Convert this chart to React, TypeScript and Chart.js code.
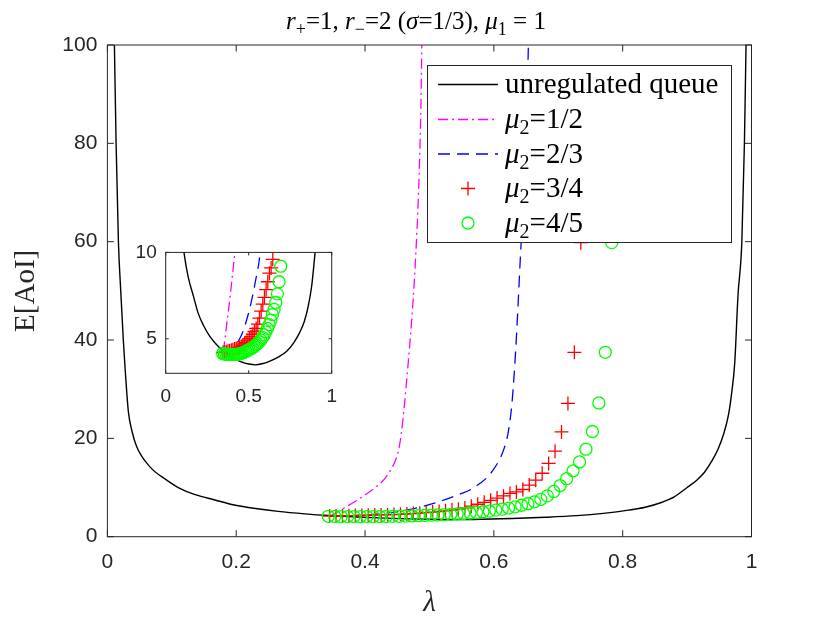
import React, { useEffect, useRef } from "react";
import { Chart, registerables } from "chart.js";

Chart.register(...registerables);

// ---------------- data ----------------
const blackX = [0.0109, 0.0135, 0.0171, 0.0207, 0.0247, 0.0278, 0.0325, 0.0385, 0.0455, 0.0661, 0.092, 0.11, 0.135, 0.167, 0.195, 0.227, 0.265, 0.307, 0.345, 0.388, 0.43, 0.468, 0.5, 0.538, 0.58, 0.628, 0.68, 0.729, 0.77, 0.809, 0.835, 0.859, 0.88, 0.9, 0.915, 0.927, 0.938, 0.948, 0.957, 0.964, 0.969, 0.974, 0.979, 0.985, 0.989, 0.9915];
const blackY = [100, 80, 60, 50, 40, 33.6, 25.5, 21.3, 18.3, 14.2, 11.5, 10, 8.6, 7.47, 6.5, 5.78, 5.15, 4.65, 4.3, 4.0, 3.78, 3.62, 3.54, 3.49, 3.55, 3.71, 3.95, 4.28, 4.75, 5.4, 6.0, 6.9, 8.1, 10, 11.5, 13.1, 15.3, 17.8, 21, 24.6, 29, 35.4, 49, 60, 80, 100];

const magentaX = [0.347, 0.357, 0.367, 0.38, 0.39, 0.4, 0.41, 0.42, 0.43, 0.44, 0.448, 0.4532, 0.459, 0.4647, 0.47, 0.475, 0.479, 0.4828, 0.4852, 0.487, 0.4882];
const magentaY = [4.28, 5.0, 5.78, 6.8, 7.6, 8.5, 9.4, 10.4, 11.7, 13.6, 15.8, 18.3, 24, 31.9, 40, 48.8, 58, 69.1, 79, 89.5, 100];

const blueX = [0.345, 0.38, 0.41, 0.44, 0.465, 0.488, 0.51, 0.53, 0.548, 0.563, 0.579, 0.59, 0.599, 0.608, 0.615, 0.622, 0.628, 0.632, 0.6356, 0.6407, 0.6458, 0.651, 0.6536];
const blueY = [4.2, 4.3, 4.5, 4.9, 5.4, 6.1, 6.9, 7.8, 8.7, 9.5, 10.9, 12.1, 13.6, 15.5, 17.6, 21, 27, 34, 42, 55.6, 69.1, 86, 100];

const redX = [0.345, 0.355, 0.365, 0.375, 0.385, 0.395, 0.405, 0.415, 0.425, 0.435, 0.445, 0.455, 0.465, 0.475, 0.485, 0.495, 0.505, 0.515, 0.525, 0.535, 0.545, 0.555, 0.565, 0.575, 0.585, 0.595, 0.605, 0.615, 0.625, 0.635, 0.645, 0.655, 0.665, 0.675, 0.685, 0.695, 0.705, 0.715, 0.725, 0.735];
const redY = [4.2, 4.22, 4.25, 4.28, 4.3, 4.33, 4.36, 4.4, 4.43, 4.47, 4.5, 4.56, 4.62, 4.7, 4.78, 4.88, 5.0, 5.12, 5.26, 5.42, 5.6, 5.85, 6.2, 6.6, 7.0, 7.4, 7.85, 8.3, 8.8, 9.1, 9.6, 10.5, 11.5, 12.9, 14.9, 17.4, 21.3, 27.1, 37.5, 59.8];

const greenX = [0.343, 0.353, 0.363, 0.373, 0.383, 0.393, 0.403, 0.413, 0.423, 0.433, 0.443, 0.453, 0.463, 0.473, 0.483, 0.493, 0.503, 0.513, 0.523, 0.533, 0.543, 0.553, 0.563, 0.573, 0.583, 0.593, 0.603, 0.613, 0.623, 0.633, 0.643, 0.653, 0.663, 0.673, 0.683, 0.693, 0.703, 0.713, 0.723, 0.733, 0.743, 0.753, 0.763, 0.773, 0.783];
const greenY = [4.15, 4.12, 4.1, 4.09, 4.09, 4.09, 4.09, 4.09, 4.09, 4.11, 4.13, 4.15, 4.18, 4.22, 4.27, 4.32, 4.37, 4.42, 4.48, 4.55, 4.63, 4.72, 4.82, 4.93, 5.07, 5.22, 5.4, 5.6, 5.82, 6.08, 6.4, 6.7, 7.1, 7.6, 8.3, 9.2, 10.4, 11.8, 13.4, 15.2, 17.8, 21.4, 27.2, 37.5, 59.8];

const mainXTicks = [0, 0.2, 0.4, 0.6, 0.8, 1];
const mainYTicks = [0, 20, 40, 60, 80, 100];
const insetXTicks = [0, 0.5, 1];
const insetYTicks = [5, 10];

const seriesLabels = ["unregulated queue", "μ2=1/2", "μ2=2/3", "μ2=3/4", "μ2=4/5"];
const xAxisLabel = "λ";
const yAxisLabel = "E[AoI]";

type Part = { t: string; it?: boolean; sub?: boolean };
const titleParts: Part[] = [
  { t: "r", it: true }, { t: "+", sub: true }, { t: "=1, " },
  { t: "r", it: true }, { t: "−", sub: true }, { t: "=2 (" },
  { t: "σ", it: true }, { t: "=1/3), " },
  { t: "μ", it: true }, { t: "1", sub: true }, { t: " = 1" },
];
const legendParts: Part[][] = [
  [{ t: "unregulated queue" }],
  [{ t: "μ", it: true }, { t: "2", sub: true }, { t: "=1/2" }],
  [{ t: "μ", it: true }, { t: "2", sub: true }, { t: "=2/3" }],
  [{ t: "μ", it: true }, { t: "2", sub: true }, { t: "=3/4" }],
  [{ t: "μ", it: true }, { t: "2", sub: true }, { t: "=4/5" }],
];

// ---------------- styling ----------------
const AXIS = "#262626";
const SANS = "'Liberation Sans', Arial, sans-serif";
const SERIF = "'Liberation Serif', 'Times New Roman', serif";
const BLACK = "#000000";
const MAGENTA = "#ff00ff";
const BLUE = "#0000ff";
const RED = "#ff0000";
const GREEN = "#00ff00";
const DASH_DOT = [10, 4, 2, 4];
const DASHED = [12, 7];

function pts(xs: number[], ys: number[]) {
  return xs.map((x, i) => ({ x, y: ys[i] }));
}

function drawRich(ctx: CanvasRenderingContext2D, parts: Part[], x: number, baseline: number, size: number, center: boolean) {
  const fontFor = (p: Part) => `${p.it ? "italic " : ""}${p.sub ? Math.round(size * 0.7) : size}px ${SERIF}`;
  let total = 0;
  for (const p of parts) {
    ctx.font = fontFor(p);
    total += ctx.measureText(p.t).width;
  }
  let cx = center ? x - total / 2 : x;
  ctx.textAlign = "left";
  ctx.textBaseline = "alphabetic";
  for (const p of parts) {
    ctx.font = fontFor(p);
    ctx.fillText(p.t, cx, baseline + (p.sub ? size * 0.22 : 0));
    cx += ctx.measureText(p.t).width;
  }
}

function makeDatasets() {
  return [
    {
      label: seriesLabels[0], data: pts(blackX, blackY), showLine: true, borderColor: BLACK, borderWidth: 1.4,
      pointRadius: 0, cubicInterpolationMode: "monotone", order: 5,
    },
    {
      label: seriesLabels[1], data: pts(magentaX, magentaY), showLine: true, borderColor: MAGENTA, borderWidth: 1.3,
      borderDash: DASH_DOT, pointRadius: 0, cubicInterpolationMode: "monotone", order: 4,
    },
    {
      label: seriesLabels[2], data: pts(blueX, blueY), showLine: true, borderColor: BLUE, borderWidth: 1.3,
      borderDash: DASHED, pointRadius: 0, cubicInterpolationMode: "monotone", order: 3,
    },
    {
      label: seriesLabels[3], data: pts(redX, redY), showLine: false, pointStyle: "cross", pointRadius: 7,
      borderColor: RED, backgroundColor: RED, pointBorderWidth: 1.3, order: 2,
    },
    {
      label: seriesLabels[4], data: pts(greenX, greenY), showLine: false, pointStyle: "circle", pointRadius: 6,
      borderColor: GREEN, backgroundColor: "rgba(0,0,0,0)", pointBorderWidth: 1.3, order: 1,
    },
  ];
}

function framePlugin(xTicks: number[], yTicks: number[], tickLen: number, fillWhite: boolean) {
  return {
    id: "matlabFrame",
    beforeDatasetsDraw(chart: any) {
      if (!fillWhite) return;
      const { ctx, chartArea: a } = chart;
      ctx.save();
      ctx.fillStyle = "#ffffff";
      ctx.fillRect(a.left, a.top, a.right - a.left, a.bottom - a.top);
      ctx.restore();
    },
    afterDatasetsDraw(chart: any) {
      const { ctx, chartArea: a, scales } = chart;
      ctx.save();
      ctx.strokeStyle = AXIS;
      ctx.lineWidth = 1;
      ctx.setLineDash([]);
      ctx.beginPath();
      for (const v of xTicks) {
        const px = scales.x.getPixelForValue(v);
        ctx.moveTo(px, a.bottom);
        ctx.lineTo(px, a.bottom - tickLen);
        ctx.moveTo(px, a.top);
        ctx.lineTo(px, a.top + tickLen);
      }
      for (const v of yTicks) {
        const py = scales.y.getPixelForValue(v);
        ctx.moveTo(a.left, py);
        ctx.lineTo(a.left + tickLen, py);
        ctx.moveTo(a.right, py);
        ctx.lineTo(a.right - tickLen, py);
      }
      ctx.stroke();
      ctx.strokeRect(a.left, a.top, a.right - a.left, a.bottom - a.top);
      ctx.restore();
    },
  };
}

const legendTitlePlugin = {
  id: "legendTitle",
  afterDraw(chart: any) {
    const { ctx } = chart;
    ctx.save();
    // title
    ctx.fillStyle = "#000000";
    drawRich(ctx, titleParts, 416, 29, 25, true);

    // legend box
    const bx = 427.5, by = 65.5, bw = 304, bh = 177;
    ctx.fillStyle = "#ffffff";
    ctx.fillRect(bx, by, bw, bh);
    ctx.strokeStyle = AXIS;
    ctx.lineWidth = 1;
    ctx.strokeRect(bx, by, bw, bh);

    const rowY = [84.5, 119.5, 154, 188.5, 223];
    const x0 = 438, x1 = 498, xm = 468;
    // row 0 - solid black
    ctx.lineWidth = 1.4;
    ctx.strokeStyle = BLACK;
    ctx.setLineDash([]);
    ctx.beginPath(); ctx.moveTo(x0, rowY[0]); ctx.lineTo(x1, rowY[0]); ctx.stroke();
    // row 1 - dash-dot magenta
    ctx.lineWidth = 1.3;
    ctx.strokeStyle = MAGENTA;
    ctx.setLineDash(DASH_DOT);
    ctx.beginPath(); ctx.moveTo(x0, rowY[1]); ctx.lineTo(x1, rowY[1]); ctx.stroke();
    // row 2 - dashed blue
    ctx.strokeStyle = BLUE;
    ctx.setLineDash(DASHED);
    ctx.beginPath(); ctx.moveTo(x0, rowY[2]); ctx.lineTo(x1, rowY[2]); ctx.stroke();
    ctx.setLineDash([]);
    // row 3 - red plus
    ctx.strokeStyle = RED;
    ctx.beginPath();
    ctx.moveTo(xm - 7, rowY[3]); ctx.lineTo(xm + 7, rowY[3]);
    ctx.moveTo(xm, rowY[3] - 7); ctx.lineTo(xm, rowY[3] + 7);
    ctx.stroke();
    // row 4 - green circle
    ctx.strokeStyle = GREEN;
    ctx.beginPath(); ctx.arc(xm, rowY[4], 6, 0, Math.PI * 2); ctx.stroke();

    ctx.fillStyle = "#000000";
    legendParts.forEach((parts, i) => drawRich(ctx, parts, 505, rowY[i] + 8.5, 29, false));
    ctx.restore();
  },
};

function MainChart() {
  const ref = useRef<HTMLCanvasElement | null>(null);
  useEffect(() => {
    if (!ref.current) return;
    const chart = new Chart(ref.current, {
      type: "scatter",
      data: { datasets: makeDatasets() as any },
      options: {
        responsive: false,
        animation: false,
        events: [],
        layout: { padding: { left: 0, top: 45, right: 78.5, bottom: 0 } },
        plugins: { legend: { display: false }, tooltip: { enabled: false }, title: { display: false } },
        scales: {
          x: {
            type: "linear", min: 0, max: 1,
            afterBuildTicks: (s: any) => { s.ticks = mainXTicks.map((v) => ({ value: v })); },
            afterFit: (s: any) => { s.height = 86.3; },
            grid: { display: false, drawTicks: false },
            border: { display: false },
            ticks: { color: AXIS, font: { family: SANS, size: 21 }, padding: 13, maxRotation: 0, callback: (v: any) => String(v) },
            title: { display: true, text: xAxisLabel, color: AXIS, font: { family: SERIF, size: 29, style: "italic" }, padding: { bottom: 2 } },
          },
          y: {
            type: "linear", min: 0, max: 100,
            afterBuildTicks: (s: any) => { s.ticks = mainYTicks.map((v) => ({ value: v })); },
            afterFit: (s: any) => { s.width = 107.4; },
            grid: { display: false, drawTicks: false },
            border: { display: false },
            ticks: { color: AXIS, font: { family: SANS, size: 21 }, padding: 10, callback: (v: any) => String(v) },
            title: { display: true, text: yAxisLabel, color: AXIS, font: { family: SERIF, size: 29 }, padding: { top: 9 } },
          },
        },
      } as any,
      plugins: [framePlugin(mainXTicks, mainYTicks, 6.5, false), legendTitlePlugin] as any,
    });
    return () => chart.destroy();
  }, []);
  return <canvas ref={ref} width={830} height={623} style={{ position: "absolute", left: 0, top: 0, width: 830, height: 623 }} />;
}

function InsetChart() {
  const ref = useRef<HTMLCanvasElement | null>(null);
  useEffect(() => {
    if (!ref.current) return;
    const chart = new Chart(ref.current, {
      type: "scatter",
      data: { datasets: makeDatasets() as any },
      options: {
        responsive: false,
        animation: false,
        events: [],
        layout: { padding: { left: 0, top: 17, right: 18.3, bottom: 0 } },
        plugins: { legend: { display: false }, tooltip: { enabled: false }, title: { display: false } },
        scales: {
          x: {
            type: "linear", min: 0, max: 1,
            afterBuildTicks: (s: any) => { s.ticks = insetXTicks.map((v) => ({ value: v })); },
            afterFit: (s: any) => { s.height = 38.7; },
            grid: { display: false, drawTicks: false },
            border: { display: false },
            ticks: { color: AXIS, font: { family: SANS, size: 19 }, padding: 12, maxRotation: 0, callback: (v: any) => String(v) },
          },
          y: {
            type: "linear", min: 3, max: 10,
            afterBuildTicks: (s: any) => { s.ticks = insetYTicks.map((v) => ({ value: v })); },
            afterFit: (s: any) => { s.width = 45.7; },
            grid: { display: false, drawTicks: false },
            border: { display: false },
            ticks: { color: AXIS, font: { family: SANS, size: 19 }, padding: 9, callback: (v: any) => String(v) },
          },
        },
      } as any,
      plugins: [framePlugin(insetXTicks, insetYTicks, 3, true)] as any,
    });
    return () => chart.destroy();
  }, []);
  return <canvas ref={ref} width={230} height={180} style={{ position: "absolute", left: 120, top: 232, width: 230, height: 180 }} />;
}

export default function App() {
  return (
    <div style={{ position: "fixed", left: 0, top: 0, width: 830, height: 623, background: "#ffffff" }}>
      <MainChart />
      <InsetChart />
    </div>
  );
}
